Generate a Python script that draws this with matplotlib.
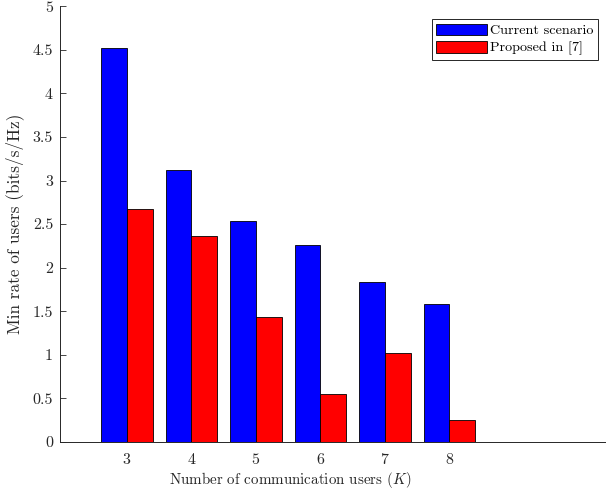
import numpy as np
import matplotlib
matplotlib.use('Agg')
import matplotlib.pyplot as plt

plt.rcParams['font.family'] = ['cmr10', 'DejaVu Serif']
plt.rcParams['mathtext.fontset'] = 'cm'
plt.rcParams['axes.formatter.use_mathtext'] = True

users = [3, 4, 5, 6, 7, 8]
current = [4.52, 3.12, 2.54, 2.26, 1.84, 1.58]
proposed = [2.67, 2.36, 1.43, 0.55, 1.02, 0.25]

fig = plt.figure(figsize=(6.06, 4.93), dpi=100)
ax = fig.add_axes([0.099, 0.1034, 0.901, 0.884])

x = np.array(users)
w = 0.4
ax.bar(x - w / 2, current, w, color='#0000ff', edgecolor='black', linewidth=0.6,
       label='Current scenario')
ax.bar(x + w / 2, proposed, w, color='#ff0000', edgecolor='black', linewidth=0.6,
       label='Proposed in [7]')

ax.set_xlim(1.96, 10.43)
ax.set_ylim(0, 5)
ax.set_xticks(users)
ax.set_yticks(np.arange(0, 5.01, 0.5))
ax.set_yticklabels(['0', '0.5', '1', '1.5', '2', '2.5', '3', '3.5', '4', '4.5', '5'])
ax.tick_params(direction='in', length=4, width=0.6, colors='#262626', labelsize=11.5)
ax.tick_params(axis='y', pad=5)
ax.tick_params(axis='x', length=0, pad=7.5)
for s in ['top', 'right']:
    ax.spines[s].set_visible(False)
for s in ['left', 'bottom']:
    ax.spines[s].set_color('#262626')
    ax.spines[s].set_linewidth(0.7)

ax.set_xlabel('Number of communication users ($K$)', fontsize=10.8, color='#262626')
ax.xaxis.set_label_coords(0.421, -0.064)
ax.set_ylabel('Min rate of users (bits/s/Hz)', fontsize=12.4, color='#262626', labelpad=6)

leg = ax.legend(loc='upper right', bbox_to_anchor=(0.985, 0.970), fontsize=10.2,
                fancybox=False, edgecolor='#262626', framealpha=1,
                handlelength=3.6, handleheight=0.9, handletextpad=0.2,
                borderpad=0.3, labelspacing=0.25, borderaxespad=0)
leg.get_frame().set_linewidth(0.7)

fig.savefig('out.png', dpi=100)
